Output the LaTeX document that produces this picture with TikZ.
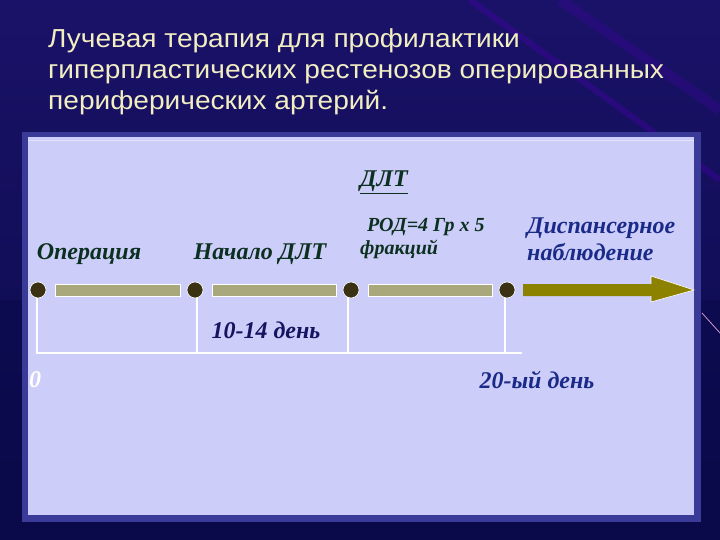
\documentclass[tikz,border=0pt]{standalone}
\usepackage{fontspec}
\setmainfont{Liberation Serif}
\setsansfont{Liberation Sans}
\usetikzlibrary{calc}
\definecolor{bgdark}{HTML}{0A0A4A}
\definecolor{bgmid}{HTML}{1A1268}
\definecolor{titlec}{HTML}{F2EEC2}
\definecolor{panelc}{HTML}{CDCDF9}
\definecolor{panelb}{HTML}{3A3A98}
\definecolor{dotc}{HTML}{3A3212}
\definecolor{barc}{HTML}{A9A77C}
\definecolor{arrowc}{HTML}{8C8200}
\definecolor{greent}{HTML}{0C3020}
\definecolor{bluet}{HTML}{1A2A88}
\definecolor{navyt}{HTML}{141460}
\begin{document}
\begin{tikzpicture}[x=1pt,y=-1pt,
  titlestyle/.style={anchor=base west,inner sep=0pt,text=titlec,font=\sffamily\addfontfeatures{FakeStretch=1.08}\fontsize{26}{30}\selectfont},
  lbl/.style={inner sep=0pt,font=\bfseries\itshape\fontsize{24}{27}\selectfont},
  dotstyle/.style={circle,fill=dotc,draw=white,line width=0.6pt,minimum size=16pt,inner sep=0pt},
  barstyle/.style={fill=barc,draw=white,line width=1pt},
  wline/.style={draw=white,line width=1.6pt}]
\useasboundingbox (0,0) rectangle (720,540);
% background
\shade[top color=bgmid,bottom color=bgdark] (0,0) rectangle (720,540);
\fill[bgdark,opacity=0.5] (0,300) rectangle (720,540);
\draw[violet!60!blue,opacity=0.35,line width=6pt] (470,0) -- (720,180);
\draw[violet!60!blue,opacity=0.25,line width=10pt] (560,0) -- (720,110);
\draw[violet!40!white,line width=0.8pt] (702,313) -- (720,333);
% title
\node[titlestyle] (t1) at (48,48) {Лучевая терапия для профилактики};
\node[titlestyle] (t2) at (48,79) {гиперпластических рестенозов оперированных};
\node[titlestyle] (t3) at (48,110) {периферических артерий.};
% panel
\fill[panelb] (22,132) rectangle (701,522);
\fill[panelc] (28,137) rectangle (694,515);
\draw[white,opacity=0.4,line width=0.8pt] (28,140) -- (694,140);
% labels
\node[lbl,text=greent] (op) at (89,254) {Операция};
\node[lbl,text=greent] (nd) at (260,254) {Начало ДЛТ};
\node[lbl,text=greent] (dlt) at (384,182) {\underline{ДЛТ}};
\node[inner sep=0pt,anchor=west,align=left,text=greent,font=\bfseries\itshape\fontsize{20}{23}\selectfont] (rod) at (360,239) {\hspace*{7pt}РОД=4 Гр х 5\\фракций};
\node[lbl,text=bluet,align=left,anchor=west,font=\bfseries\itshape\fontsize{24}{27}\selectfont] (disp) at (527,239) {Диспансерное\\наблюдение};
\node[lbl,text=navyt] (d1014) at (266,330) {10-14 день};
\node[lbl,text=white] (zero) at (35,380) {0};
\node[lbl,text=bluet] (d20) at (537,380) {20-ый день};
% white frame lines
\coordinate (hr) at (522,353);
\draw[wline] (37,290) -- (37,353) -- (hr);
\draw[wline] (197,290) -- (197,353);
\draw[wline] (348,290) -- (348,353);
\draw[wline] (505,290) -- (505,353);
% bars
\draw[barstyle] (55,284) rectangle (180,296);
\draw[barstyle] (212,284) rectangle (336,296);
\draw[barstyle] (368,284) rectangle (492,296);
% arrow
\fill[arrowc] (523,284) -- (651,284) -- (651,276) -- (694,290) -- (651,302) -- (651,296) -- (523,296) -- cycle;
\draw[white,line width=0.6pt] (651,284) -- (651,276) -- (694,290) -- (651,302) -- (651,296);
% dots
\node[dotstyle] (p1) at (38,290) {};
\node[dotstyle] (p2) at (195,290) {};
\node[dotstyle] (p3) at (351,290) {};
\node[dotstyle] (p4) at (507,290) {};
\end{tikzpicture}
\end{document}
